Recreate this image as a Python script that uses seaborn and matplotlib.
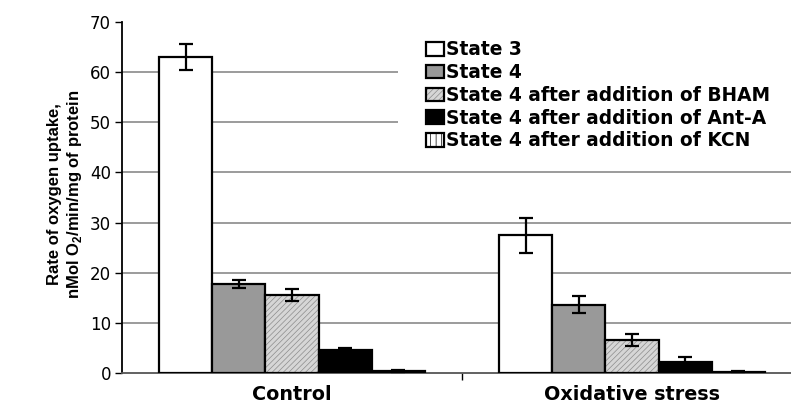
import matplotlib
matplotlib.use("Agg")
import matplotlib.pyplot as plt
import seaborn as sns
import pandas as pd
import numpy as np
from matplotlib.patches import Patch

conditions = ["Control", "Oxidative stress"]
states = ["State 3", "State 4", "State 4 after addition of BHAM",
          "State 4 after addition of Ant-A", "State 4 after addition of KCN"]
values_control = [63.0, 17.8, 15.5, 4.6, 0.4]
values_oxidative = [27.5, 13.6, 6.5, 2.2, 0.2]
errors_control = [2.6, 0.8, 1.2, 0.4, 0.15]
errors_oxidative = [3.5, 1.7, 1.2, 1.0, 0.1]
yticks = [0, 10, 20, 30, 40, 50, 60, 70]

rows = []
for c, vals, errs in [(conditions[0], values_control, errors_control),
                      (conditions[1], values_oxidative, errors_oxidative)]:
    for s, v, e in zip(states, vals, errs):
        rows.append({"condition": c, "state": s, "value": v, "err": e})
df = pd.DataFrame(rows)

sns.set_style("white")
plt.rcParams['font.family'] = ['DejaVu Sans']
plt.rcParams['hatch.linewidth'] = 0.5
plt.rcParams['text.color'] = 'black'
plt.rcParams['xtick.color'] = 'black'
plt.rcParams['ytick.color'] = 'black'
plt.rcParams['axes.labelcolor'] = 'black'

fig = plt.figure(figsize=(7.91, 4.07), dpi=100)
ax = fig.add_axes([122/791, 34/407, 1 - 122/791, 351/407])

facecolors = ["white", "#999999", "#d6d6d6", "black", "white"]
hatches = [None, None, "//////", None, "|||"]
hatchcolors = [None, None, (0.55, 0.55, 0.55, 1.0), None, (0, 0, 0, 1.0)]

sns.barplot(data=df, x="condition", y="value", hue="state", order=conditions,
            hue_order=states, errorbar=None, width=0.78, ax=ax,
            edgecolor="black", linewidth=1.6, legend=False, zorder=3)

bar_containers = list(ax.containers)
handles = []
for i, cont in enumerate(bar_containers):
    for j, bar in enumerate(cont.patches):
        bar.set_facecolor(facecolors[i])
        if hatches[i]:
            bar.set_hatch(hatches[i])
            bar._hatch_color = hatchcolors[i]
        x = bar.get_x() + bar.get_width() / 2
        sub = df[(df.state == states[i]) & (df.condition == conditions[j])]
        ax.errorbar(x, sub.value.values[0], yerr=sub.err.values[0], fmt="none",
                    ecolor="black", elinewidth=1.6, capsize=5, capthick=1.6, zorder=4)
    h = Patch(facecolor=facecolors[i], edgecolor="black", linewidth=1.6,
              hatch=hatches[i], label=states[i])
    if hatches[i]:
        h._hatch_color = hatchcolors[i]
    handles.append(h)

ax.set_ylim(0, 70)
ax.set_yticks(yticks)
ax.set_xlim(-0.5, 1.5 - 11/340)
for t in yticks[1:-1]:
    ax.axhline(t, color="#808080", linewidth=1.1, zorder=1)
# white area behind the legend (hides gridlines there)
ax.axhspan(42, 68, xmin=(398 - 122) / 669, xmax=1, color="white", zorder=2, lw=0)

ax.spines["top"].set_visible(False)
ax.spines["right"].set_visible(False)
ax.spines["left"].set_linewidth(1.3)
ax.spines["left"].set_color("black")
ax.spines["bottom"].set_linewidth(1.3)
ax.spines["bottom"].set_color("#555555")
ax.tick_params(axis="y", direction="out", length=5, width=1, labelsize=12, left=True, pad=3)
ax.set_xticks([0, 1])
ax.set_xticklabels(conditions, fontweight="bold", fontsize=13.8)
ax.tick_params(axis="x", length=0, pad=9)
ax.xaxis.set_minor_locator(matplotlib.ticker.FixedLocator([0.5]))
ax.tick_params(axis="x", which="minor", direction="out", length=5, width=1, bottom=True)
ax.set_xlabel("")
ax.set_ylabel("Rate of oxygen uptake,\nnMol O$_\\mathregular{2}$/min/mg of protein",
              fontweight="bold", fontsize=12, family="Liberation Sans")
ax.yaxis.set_label_coords(-0.057, 0.51)

leg = ax.legend(handles=handles, loc="upper left", bbox_to_anchor=(0.432, 0.99),
                frameon=False, prop={"weight": "bold", "size": 13.4},
                handlelength=0.95, handleheight=0.75, handletextpad=0.15,
                labelspacing=0.2, borderpad=0.3)
leg.set_zorder(5)

fig.savefig("out.png", dpi=100)
